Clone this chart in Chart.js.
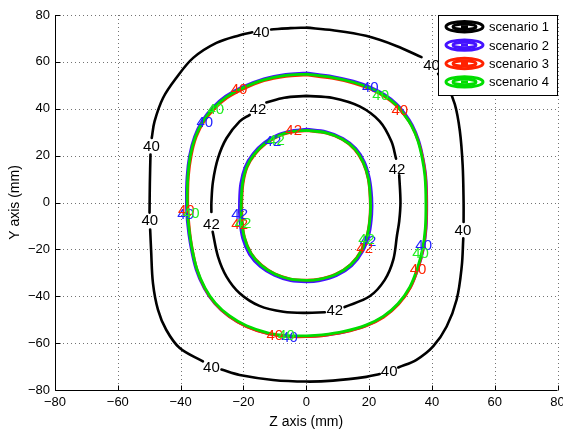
<!DOCTYPE html>
<html>
<head>
<meta charset="utf-8">
<script src="https://cdn.jsdelivr.net/npm/chart.js@4.4.1/dist/chart.umd.min.js"></script>
<style>
  html, body { margin: 0; padding: 0; background: #fff; }
</style>
</head>
<body>
<canvas id="chart" width="563" height="431"></canvas>
<script>
// axis ticks (mm)
const zTicks = [-80, -60, -40, -20, 0, 20, 40, 60, 80]
const yTicks = [-80, -60, -40, -20, 0, 20, 40, 60, 80]

const scenarioNames = ['scenario 1', 'scenario 2', 'scenario 3', 'scenario 4']

// contour lines, [z, y]; null = break where a label sits
const sc1_40 = [[0,74.6],[8.5,73.5],[19,71.1],[28.7,66.8],[36.7,62],null,[42,54.9],[44.6,50.5],[47.3,42],[48.9,30.6],[49.8,16],[50.1,0],[50.1,-8.3],null,[50,-15.3],[49.5,-27.4],[47.9,-41.4],[44.7,-52.9],[40.4,-61.4],[35.1,-67.1],[29.3,-70.4],null,[23.4,-73.2],[19.1,-74.4],[8.5,-76],[0,-76.4],[-10.6,-75.7],[-21.2,-73.6],[-27,-71.3],null,[-32.9,-67.8],[-40.3,-62.1],[-44.6,-54.3],[-47.2,-45.8],[-48.8,-34.5],[-49.4,-20.3],[-49.7,-11.5],null,[-49.9,-4.3],[-49.8,8],[-49.6,20.5],null,[-49.2,27.5],[-48.3,34.6],[-45.6,44.6],[-41.4,53.1],[-36,61.7],[-28.6,68.1],[-21.2,71.4],[-17.2,72.6],null,[-11.2,73.8],[-5,74.4],[0,74.6]]
const sc1_42 = [[0,45.5],[8.5,44.6],[17,41],[23.4,34.6],[27.1,26.1],[28.6,18.7],null,[29.6,11.6],[30,0],[29.6,-8],[28.9,-14],[27.7,-24.5],[25,-33],[20.2,-40],[12.2,-44.6],null,[5.9,-46.8],[0,-47.1],[-7.3,-46.6],[-14.9,-44.1],[-21.2,-38.7],[-25.4,-31.6],[-28.1,-23.1],[-29.8,-12.5],null,[-30.2,-4],[-30.2,0],[-29.7,8.9],[-28.1,18.9],[-25.4,27.4],[-21.2,34.6],[-18,37.4],null,[-12.7,42.7],[-7,44.7],[0,45.5]]

const sc2_40 = [[0,55.3],[8.5,53.8],[15,51.8],[20.5,49.2],[25,46],[28.7,42.2],[31.6,37.6],[33.8,33],[35.8,26.6],[37.2,19],[38.1,11],[38.4,0],[38.2,-11],[37.3,-20],[35.6,-28.2],[33.1,-36.3],[29.2,-43.5],[24.4,-48.9],[19,-52.6],[12,-55.3],[5,-56.8],[0,-57.2],[-6,-57.1],[-12,-56],[-19,-52.9],[-24.6,-48.6],[-29.2,-43],[-32.5,-36.6],[-35.1,-28.6],[-36.9,-18],[-37.9,-8],[-38.2,0],[-38,11],[-37.2,20],[-35.6,28.1],[-33.1,35],[-29.8,40.6],[-25.7,45.4],[-20.6,49.2],[-13.5,52.8],[-6.5,54.7],[0,55.3]]
const sc2_42 = [[0,31.3],[6.4,30.2],[11.7,27.4],[15.8,23.1],[18.6,17.2],[20.2,10],[20.9,2],[20.9,-5],[20.1,-13.2],[18,-20.9],[14.5,-27],[9.7,-31.2],[4,-33.5],[0,-33.9],[-5,-33.4],[-10.2,-31.1],[-14.7,-27.3],[-18.1,-22.2],[-20.3,-15.2],[-21.2,-7],[-21.3,0],[-20.9,8],[-19.5,15.2],[-17,20.8],[-13.3,25.7],[-8.7,29.1],[-4,30.8],[0,31.3]]

const sc3_40 = [[0,54.4],[8.5,52.9],[15,50.9],[20.5,48.3],[25,45.1],[28.5,41.5],[31.4,37],[33.6,32.6],[35.6,26.4],[37.1,19],[38,11],[38.3,0],[38.1,-11],[37.2,-20],[35.6,-28.2],[33.2,-36.3],[29.4,-43.5],[24.6,-49],[19,-52.7],[12,-55.4],[5,-56.9],[0,-57.3],[-6,-57.2],[-12,-56.1],[-19,-53],[-24.6,-48.6],[-29.1,-43],[-32.3,-36.6],[-34.8,-28.5],[-36.5,-18],[-37.4,-8],[-37.7,0],[-37.5,11],[-36.6,20],[-35,28],[-32.5,34.6],[-29.2,40],[-25.2,44.6],[-20.3,48.2],[-13.5,51.9],[-6.5,53.8],[0,54.4]]
const sc3_42 = [[0,30.6],[6.4,29.5],[11.5,26.8],[15.4,22.6],[18.1,16.9],[19.7,10],[20.3,2],[20.3,-5],[19.5,-13],[17.5,-20.4],[14.1,-26.4],[9.4,-30.5],[4,-32.7],[0,-33.1],[-5,-32.6],[-10,-30.4],[-14.2,-26.7],[-17.5,-21.7],[-19.6,-15],[-20.4,-7],[-20.5,0],[-20.1,8],[-18.8,15],[-16.4,20.4],[-12.9,25.1],[-8.5,28.5],[-4,30.1],[0,30.6]]

const sc4_40 = [[0,54.8],[8.5,53.3],[15,51.3],[20.5,48.7],[25,45.5],[28.5,41.8],[31.3,37.3],[33.5,32.8],[35.5,26.5],[36.9,19],[37.8,11],[38.1,0],[37.9,-11],[37,-20],[35.4,-28],[33,-36],[29.2,-43.2],[24.5,-48.6],[19,-52.3],[12,-55],[5,-56.5],[0,-56.9],[-6,-56.8],[-12,-55.7],[-19,-52.6],[-24.5,-48.3],[-29,-42.8],[-32.2,-36.5],[-34.8,-28.5],[-36.6,-18],[-37.6,-8],[-37.9,0],[-37.7,11],[-36.9,20],[-35.3,28],[-32.8,34.8],[-29.5,40.3],[-25.5,45],[-20.5,48.7],[-13.5,52.3],[-6.5,54.2],[0,54.8]]
const sc4_42 = [[0,30.8],[6.4,29.7],[11.5,27],[15.5,22.8],[18.2,17],[19.8,10],[20.4,2],[20.4,-5],[19.6,-13],[17.6,-20.5],[14.2,-26.5],[9.5,-30.6],[4,-32.8],[0,-33.2],[-5,-32.7],[-10,-30.5],[-14.3,-26.8],[-17.6,-21.8],[-19.7,-15],[-20.6,-7],[-20.7,0],[-20.3,8],[-19,15],[-16.6,20.5],[-13,25.3],[-8.5,28.7],[-4,30.3],[0,30.8]]

// contour labels [z, y, text]
const labels1 = [[-14.3,72.9,'40'],[39.9,58.7,'40'],[-49.3,24.2,'40'],[-49.8,-7.5,'40'],[49.9,-11.7,'40'],[-30.2,-70.1,'40'],[26.4,-71.8,'40'],
                 [-15.4,39.8,'42'],[28.9,14.3,'42'],[-30.2,-8.9,'42'],[9.1,-45.6,'42']]
const labels2 = [[-32.3,34.5,'40'],[20.4,49.4,'40'],[-38.4,-4.9,'40'],[37.4,-18.1,'40'],[-5.3,-57.3,'40'],
                 [-10.6,26.2,'42'],[-21.2,-4.9,'42'],[19.7,-16.3,'42']]
const labels3 = [[-21.4,48.7,'40'],[29.8,39.5,'40'],[-38.2,-3.2,'40'],[35.6,-28.1,'40'],[-10,-56.5,'40'],
                 [-4,30.9,'42'],[-21.2,-9.2,'42'],[18.6,-19.5,'42']]
const labels4 = [[-28.8,39.8,'40'],[23.7,45.9,'40'],[-36.6,-4.6,'40'],[36.4,-21.4,'40'],[-6.3,-56.5,'40'],
                 [-9.5,26.7,'42'],[-20.1,-8.6,'42'],[19.2,-15.3,'42']]

const lineColors  = ['#000000', '#4412ff', '#ff2200', '#00dd00']
const labelColors = ['#000000', '#2222ff', '#ff2200', '#22ee22']
const allLabels = [labels1, labels2, labels3, labels4]

const FONT = '"Liberation Sans", Arial, Helvetica, sans-serif'
Chart.defaults.font.family = FONT
Chart.defaults.color = '#000'

const toPts = arr => arr.map(p => p ? { x: p[0], y: p[1] } : { x: null, y: null })

function contour(data, i, width) {
  return {
    label: scenarioNames[i],
    data: toPts(data),
    showLine: true,
    borderColor: lineColors[i],
    borderWidth: width,
    pointRadius: 0,
    tension: 0.35,
    spanGaps: false,
    borderCapStyle: 'round',
    borderJoinStyle: 'round',
    order: 3 - i
  }
}

const minus = v => (v < 0 ? '\u2212' : '') + Math.abs(v)

const deco = {
  id: 'deco',
  beforeDatasetsDraw(chart) {
    const { ctx, chartArea: a, scales: { x, y } } = chart
    ctx.save()
    ctx.strokeStyle = 'rgba(0,0,0,0.55)'
    ctx.lineWidth = 1
    ctx.setLineDash([1, 3])
    zTicks.forEach(v => {
      const px = Math.round(x.getPixelForValue(v)) + 0.5
      ctx.beginPath(); ctx.moveTo(px, a.top); ctx.lineTo(px, a.bottom); ctx.stroke()
    })
    yTicks.forEach(v => {
      const py = Math.round(y.getPixelForValue(v)) + 0.5
      ctx.beginPath(); ctx.moveTo(a.left, py); ctx.lineTo(a.right, py); ctx.stroke()
    })
    ctx.restore()
  },
  afterDatasetsDraw(chart) {
    const { ctx, chartArea: a, scales: { x, y } } = chart
    ctx.save()
    // axes + inward ticks
    ctx.strokeStyle = '#000'
    ctx.lineWidth = 1
    const L = Math.round(a.left) + 0.5, B = Math.round(a.bottom) + 0.5
    ctx.beginPath(); ctx.moveTo(L, a.top); ctx.lineTo(L, B); ctx.lineTo(a.right, B); ctx.stroke()
    zTicks.forEach(v => {
      const px = Math.round(x.getPixelForValue(v)) + 0.5
      ctx.beginPath(); ctx.moveTo(px, B); ctx.lineTo(px, B - 5); ctx.stroke()
    })
    yTicks.forEach(v => {
      const py = Math.round(y.getPixelForValue(v)) + 0.5
      ctx.beginPath(); ctx.moveTo(L, py); ctx.lineTo(L + 5, py); ctx.stroke()
    })

    // contour labels
    ctx.font = '15px ' + FONT
    ctx.textAlign = 'center'
    ctx.textBaseline = 'middle'
    allLabels.forEach((list, i) => {
      ctx.fillStyle = labelColors[i]
      list.forEach(([lx, ly, t]) => ctx.fillText(t, x.getPixelForValue(lx), y.getPixelForValue(ly) + 1))
    })

    // legend with contour-style icons
    const bx = 438.5, by = 15.5, bw = a.right - 438.5, bh = 80
    ctx.fillStyle = '#fff'
    ctx.fillRect(bx, by, bw, bh)
    ctx.strokeStyle = '#000'
    ctx.lineWidth = 1
    ctx.strokeRect(bx, by, bw, bh)
    ctx.font = '13px ' + FONT
    ctx.textAlign = 'left'
    scenarioNames.forEach((name, i) => {
      const cy = 26.7 + i * 18.4, cx = 464.5
      ctx.strokeStyle = lineColors[i]
      ctx.lineWidth = 3
      ctx.beginPath(); ctx.ellipse(cx, cy, 18.5, 5.2, 0, 0, Math.PI * 2); ctx.stroke()
      ctx.beginPath(); ctx.ellipse(cx, cy, 11.5, 2.8, 0, 0, Math.PI * 2); ctx.stroke()
      ctx.beginPath(); ctx.moveTo(cx - 3.5, cy); ctx.lineTo(cx + 3.5, cy); ctx.stroke()
      ctx.fillStyle = '#000'
      ctx.fillText(name, 489, cy + 1)
    })
    ctx.restore()
  }
}

new Chart(document.getElementById('chart').getContext('2d'), {
  type: 'scatter',
  data: {
    datasets: [
      contour(sc1_40, 0, 2.6), contour(sc1_42, 0, 2.6),
      contour(sc2_40, 1, 2.6), contour(sc2_42, 1, 2.6),
      contour(sc3_40, 2, 2.6), contour(sc3_42, 2, 2.6),
      contour(sc4_40, 3, 2.8), contour(sc4_42, 3, 2.8)
    ]
  },
  options: {
    responsive: false,
    animation: false,
    layout: { padding: { top: 15, right: 5.5, left: 0, bottom: 0 } },
    plugins: { legend: { display: false }, tooltip: { enabled: false } },
    scales: {
      x: {
        type: 'linear',
        min: -80, max: 80,
        afterBuildTicks: s => { s.ticks = zTicks.map(v => ({ value: v })) },
        afterFit: s => { s.height = 41; s.paddingLeft = 0; s.paddingRight = 0 },
        grid: { display: false, drawTicks: false },
        border: { display: false },
        ticks: { font: { size: 13 }, padding: 5, maxRotation: 0, autoSkip: false, callback: minus },
        title: { display: true, text: 'Z axis (mm)', font: { size: 14 }, padding: { top: 2, bottom: 0 } }
      },
      y: {
        type: 'linear',
        min: -80, max: 80,
        afterBuildTicks: s => { s.ticks = yTicks.map(v => ({ value: v })) },
        afterFit: s => { s.width = 55; s.paddingTop = 0; s.paddingBottom = 0 },
        grid: { display: false, drawTicks: false },
        border: { display: false },
        ticks: { font: { size: 13 }, padding: 5, autoSkip: false, callback: minus },
        title: { display: true, text: 'Y axis (mm)', font: { size: 14 }, padding: { top: 6.6, bottom: 0 } }
      }
    }
  },
  plugins: [deco]
})
</script>
</body>
</html>
